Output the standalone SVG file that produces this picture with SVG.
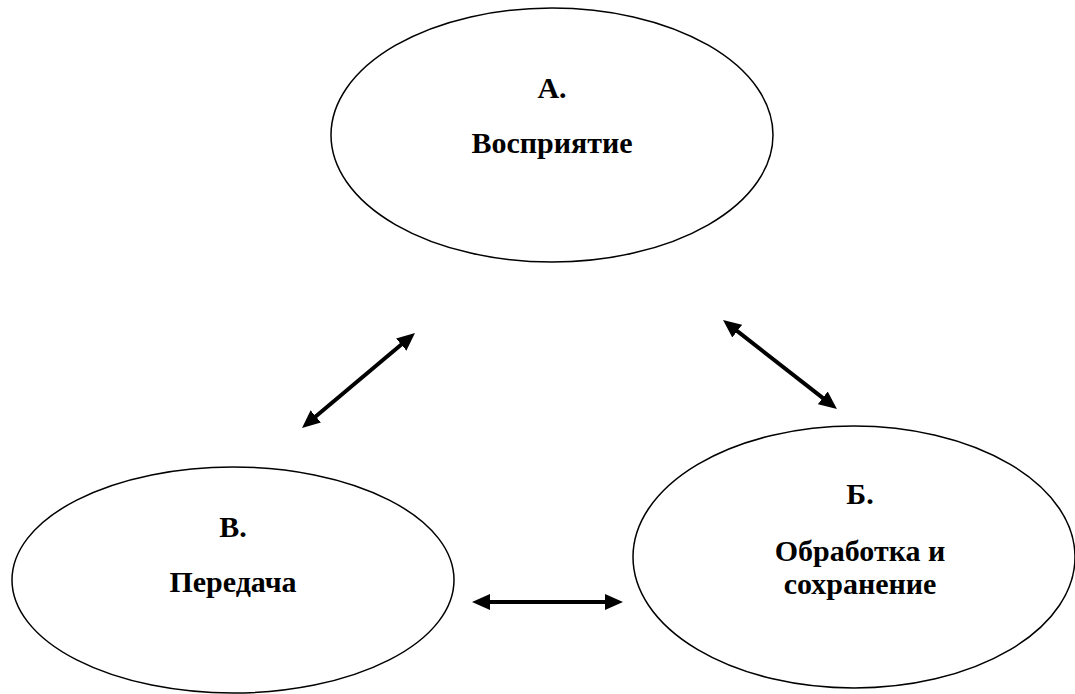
<svg xmlns="http://www.w3.org/2000/svg" width="1075" height="694" viewBox="0 0 1075 694">
<style>
.node{fill:#fff;stroke:#000;stroke-width:1.5}
.lbl{font-family:"Liberation Serif","DejaVu Serif",serif;font-weight:bold;font-size:30px;fill:#000;text-anchor:middle}
.conn{stroke:#000;stroke-width:4;fill:none;marker-start:url(#ah);marker-end:url(#ah)}
</style>
<defs>
<marker id="ah" markerUnits="userSpaceOnUse" markerWidth="18" markerHeight="18" refX="6" refY="9" orient="auto-start-reverse" viewBox="0 0 18 18">
<path d="M0,1 L18,9 L0,17 z" fill="#000"/>
</marker>
</defs>
<rect width="1075" height="694" fill="#fff"/>
<g id="nodeA">
<ellipse class="node" cx="552" cy="135" rx="221" ry="127"/>
<text class="lbl" x="552" y="98">А.</text>
<text class="lbl" x="552" y="153">Восприятие</text>
</g>
<g id="nodeV">
<ellipse class="node" cx="233" cy="580" rx="221" ry="113"/>
<text class="lbl" x="233" y="537">В.</text>
<text class="lbl" x="233" y="592">Передача</text>
</g>
<g id="nodeB">
<ellipse class="node" cx="854" cy="557" rx="221" ry="131"/>
<text class="lbl" x="860" y="504">Б.</text>
<text class="lbl" x="860" y="561">Обработка и</text>
<text class="lbl" x="860" y="594">сохранение</text>
</g>
<g id="connectors">
<line class="conn" x1="311.2" y1="420.3" x2="405.8" y2="340.7"/>
<line class="conn" x1="732.5" y1="327.4" x2="827.5" y2="401.6"/>
<line class="conn" x1="484" y1="602" x2="611" y2="602"/>
</g>
</svg>
